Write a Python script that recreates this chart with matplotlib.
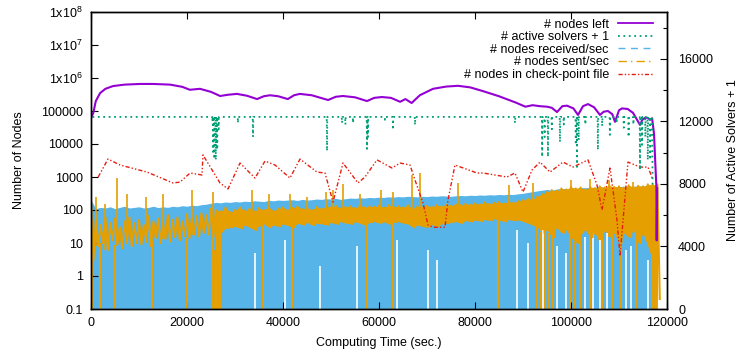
import numpy as np
import matplotlib
matplotlib.use('Agg')
from matplotlib import pyplot as plt
from matplotlib.lines import Line2D
from matplotlib.ticker import FixedLocator, FixedFormatter, MultipleLocator

plt.rcParams['font.family'] = 'Liberation Sans'
plt.rcParams['mathtext.fontset'] = 'custom'
plt.rcParams['mathtext.rm'] = 'Liberation Sans'
plt.rcParams['mathtext.default'] = 'regular'
plt.rcParams['font.size'] = 9

# gnuplot default palette
colors = {'left': '#9400d3', 'solvers': '#009e73', 'recv': '#56b4e9',
          'sent': '#e69f00', 'ckpt': '#e51e10'}

# ---- nodes left (left axis) ----
left_t = [0, 500, 1000, 1900, 3000, 4600, 7000, 10200, 13000, 16500, 19000, 20600,
          22700, 25000, 26900, 28500, 30400, 32500, 34600, 36000, 37300, 39000, 41000,
          42300, 43500, 46000, 49400, 51000, 52500, 55000, 57500, 59000, 60600, 62500,
          64400, 65500, 66800, 68500, 71250, 74000, 76460, 79000, 81670, 85000, 88500,
          90500, 92000, 93500, 95000, 96000, 97080, 98200, 99170, 100500, 101460, 102500,
          103540, 104800, 106040, 106800, 107700, 108600, 109170, 110000, 110620, 111800,
          112920, 114370, 114900, 115420, 116000, 116460, 116900, 117300, 117600, 117800,
          117850, 117950]
left_v = [60000, 90000, 200000, 350000, 470000, 570000, 630000, 660000, 660000, 630000,
          540000, 440000, 470000, 380000, 285000, 310000, 330000, 290000, 230000, 280000,
          300000, 280000, 230000, 300000, 330000, 300000, 215000, 270000, 285000, 260000,
          200000, 250000, 265000, 250000, 190000, 230000, 175000, 300000, 470000, 550000,
          580000, 520000, 400000, 280000, 180000, 135000, 150000, 140000, 135000, 125000,
          93000, 140000, 145000, 120000, 76000, 140000, 162000, 130000, 76000, 95000,
          100000, 80000, 47000, 105000, 120000, 115000, 88000, 38000, 55000, 62000, 62000,
          54000, 60000, 20000, 2000, 450, 12, 450]

# ---- active solvers + 1 (right axis) ----
solver_start = 300
solver_end = 116900
solver_base = 12288
dip_t = [25300, 25420, 25700, 26000, 26300, 26600, 30620, 33750, 49170, 52300, 53000,
         54600, 57500, 57700, 61250, 62920, 67500, 88330, 94000, 94500, 95200, 96000,
         97700, 98500, 101000, 101250, 101600, 103000, 105600, 106500, 108100, 109500,
         111000, 112000, 113000, 114370, 114800, 115500, 116000, 116500]
dip_v = [12000, 10050, 9600, 9540, 10200, 11500, 11900, 11010, 10110, 11900, 11800,
         11900, 10240, 11000, 12100, 11460, 11780, 11900, 9730, 11000, 9730, 11500,
         10690, 11800, 10500, 9090, 10800, 11800, 10180, 11700, 11140, 11900, 11600,
         11000, 11800, 8900, 10500, 11000, 9540, 9540]
solver_tail_t = [117000, 117200]
solver_tail_v = [7800, 7800]

# ---- nodes received / sent per second (left axis), sampled every 1000 s ----
rate_t = np.arange(0, 118001, 1000)
recv_hi = [200, 110, 120, 115, 125, 110, 120, 130, 115, 120,
           125, 115, 120, 130, 118, 125, 120, 130, 125, 135,
           130, 140, 135, 145, 150, 160, 170, 165, 175, 170,
           180, 175, 185, 180, 190, 185, 180, 195, 190, 200,
           195, 200, 205, 195, 210, 200, 205, 215, 210, 220,
           215, 225, 210, 220, 230, 225, 235, 230, 240, 235,
           245, 240, 250, 245, 255, 250, 260, 255, 250, 260,
           255, 265, 260, 270, 265, 260, 270, 275, 270, 280,
           275, 285, 280, 290, 285, 295, 290, 300, 295, 310,
           320, 340, 360, 380, 400, 420, 400, 430, 450, 440,
           460, 450, 480, 470, 490, 480, 500, 490, 510, 500,
           520, 510, 530, 520, 540, 530, 550, 500, 150]
sent_hi = [200, 50, 35, 60, 40, 55, 30, 45, 60, 40,
           50, 35, 65, 45, 55, 40, 70, 50, 60, 45,
           75, 55, 65, 80, 70, 110, 100, 90, 120, 85,
           100, 120, 95, 110, 90, 115, 100, 125, 95, 110,
           120, 100, 115, 130, 105, 120, 100, 125, 110, 130,
           120, 135, 110, 125, 130, 115, 140, 120, 130, 125,
           135, 120, 140, 125, 130, 120, 140, 110, 130, 120,
           135, 125, 140, 130, 145, 135, 150, 140, 155, 145,
           160, 150, 170, 155, 165, 175, 160, 180, 170, 185,
           200, 220, 210, 260, 300, 350, 400, 380, 450, 420,
           500, 450, 480, 420, 500, 460, 520, 480, 550, 500,
           520, 480, 560, 500, 540, 520, 600, 580, 600]
sent_lo = [3, 8, 10, 6, 12, 9, 7, 11, 8, 10,
           9, 12, 8, 14, 10, 13, 11, 15, 12, 16,
           14, 18, 16, 20, 18, 15, 0.5, 22, 28, 30,
           32, 28, 35, 30, 25, 33, 38, 30, 35, 32,
           38, 34, 30, 40, 36, 42, 35, 40, 38, 36,
           42, 38, 45, 40, 38, 44, 40, 35, 42, 45,
           40, 44, 38, 42, 45, 40, 38, 30, 35, 32,
           30, 36, 32, 38, 40, 42, 45, 40, 48, 45,
           50, 46, 52, 48, 55, 50, 45, 52, 48, 50,
           45, 40, 35, 30, 20, 25, 15, 30, 20, 25,
           15, 10, 20, 25, 15, 20, 10, 25, 15, 20,
           10, 20, 15, 25, 10, 20, 8, 3, 0.2]

# intervals with (almost) nothing received: time, level below which nothing shows
recv_gap_t = [26000, 34200, 40400, 47700, 55400, 63750, 70200, 72000, 88750, 91000,
              94200, 97000, 99000, 103000, 104500, 106000, 107500, 111500, 112500, 116000]
recv_gap_top = [0.8, 5, 12, 2, 8, 12, 6, 3, 25, 10, 25, 8, 5, 15, 20, 12, 20, 6, 8, 3]

# sent/sec bursts and drop-outs
sent_spike_t = [1000, 3000, 5400, 7500, 11500, 15000, 21000, 25500, 33500, 37000, 41500,
                45000, 49000, 50500, 52500, 56000, 60500, 63000, 66800, 68500, 76500,
                87000, 92000, 100000, 104000, 108000, 113000]
sent_spike_v = [250, 150, 950, 300, 250, 300, 400, 350, 400, 300, 300, 250, 350, 400,
                600, 300, 400, 350, 1150, 1300, 660, 570, 660, 800, 900, 800, 700]
sent_drop_t = [200, 1900, 5000, 12700, 20000, 25200, 25600, 26000, 26400, 26900, 35800,
               41900, 57500, 62900, 84800, 92900, 93800, 94600, 95500, 96300, 99800,
               100800, 101900, 104000, 106500, 108500, 110500, 113500, 116900, 117300,
               117700]

# ---- nodes in check-point file (left axis) ----
ckpt_t = [1500, 3540, 6040, 11670, 17080, 18540, 20630, 23120, 23330, 26870, 28540,
          31040, 34170, 36250, 38330, 41460, 43540, 47080, 48750, 50420, 52500, 55620,
          57080, 59580, 62710, 64370, 66460, 67500, 69170, 70210, 71250, 73750, 74370,
          75830, 80420, 81670, 86670, 88330, 90000, 91870, 93540, 95620, 98330, 100420,
          103540, 105420, 106460, 108120, 109580, 110210, 111870, 114370, 116040, 117080]
ckpt_v = [1000, 3500, 2310, 1410, 660, 700, 1320, 1150, 4650, 660, 435, 2650, 930, 3040,
          2310, 930, 3500, 1410, 1320, 175, 2650, 660, 1000, 3300, 1870, 2650, 2310, 810,
          163, 35, 30, 30, 200, 2310, 1320, 1320, 1000, 1320, 350, 1620, 2830, 1410, 2830,
          2000, 3300, 570, 100, 1870, 50, 4, 2830, 2000, 2000, 810]

ytick_vals = [0.1, 1, 10, 100, 1000, 10000, 100000, 1e6, 1e7, 1e8]
ytick_labels = ['0.1', '1', '10', '100', '1000', '10000', '100000',
                '1x10$^{6}$', '1x10$^{7}$', '1x10$^{8}$']
xtick_vals = [0, 20000, 40000, 60000, 80000, 100000, 120000]
xtick_labels = ['0', '20000', '40000', '60000', '80000', '100000', '120000']
y2tick_vals = [0, 4000, 8000, 12000, 16000]


def solver_series():
    t = [solver_start]
    v = [solver_base]
    for dt, dv in zip(dip_t, dip_v):
        t += [dt - 60, dt, dt + 60]
        v += [solver_base, dv, solver_base]
    t += [solver_end] + solver_tail_t
    v += [solver_base] + solver_tail_v
    return t, v


def zigzag(t, hi, lo):
    # alternate between the upper and lower reading to get gnuplot's noisy trace
    zt, zv = [], []
    for ti, h, l in zip(t, hi, lo):
        zt += [ti, ti + 500]
        zv += [h, l]
    return zt, zv


fig = plt.figure(figsize=(7.4, 3.52), dpi=100)
ax = fig.add_axes([91 / 740, 43 / 352, 576 / 740, 297 / 352])
ax.set_yscale('log')
ax.set_xlim(0, 120000)
ax.set_ylim(0.1, 1e8)

# received/sec: dense band from the bottom
ax.fill_between(rate_t, 0.1, recv_hi, color=colors['recv'], lw=0)
ax.vlines(recv_gap_t, 0.1, recv_gap_top, colors='white', lw=1.2)

# sent/sec: noisy trace, bursts and drop-outs
ax.fill_between(rate_t, sent_lo, sent_hi, color=colors['sent'], lw=0,
                where=rate_t >= 26000)
zt, zv = zigzag(rate_t, sent_hi, sent_lo)
ax.plot(zt, zv, color=colors['sent'], lw=1.5)
lo_at_spike = np.interp(sent_spike_t, rate_t, sent_lo)
ax.vlines(sent_spike_t, lo_at_spike, sent_spike_v, colors=colors['sent'], lw=1.2)
lo_at_drop = np.interp(sent_drop_t, rate_t, sent_lo)
ax.vlines(sent_drop_t, 0.1, np.maximum(lo_at_drop, 5), colors=colors['sent'], lw=1.4)

ax.plot(ckpt_t, ckpt_v, color=colors['ckpt'], lw=1, ls=(0, (3, 1.5, 1, 1.5, 1, 1.5)))
ax.plot(left_t, left_v, color=colors['left'], lw=1.5)

ax.yaxis.set_major_locator(FixedLocator(ytick_vals))
ax.yaxis.set_major_formatter(FixedFormatter(ytick_labels))
ax.yaxis.set_minor_locator(FixedLocator([]))
ax.xaxis.set_major_locator(FixedLocator(xtick_vals))
ax.xaxis.set_major_formatter(FixedFormatter(xtick_labels))
ax.tick_params(which='both', direction='in', top=True, right=True, length=5, width=0.8)
ax.tick_params(axis='y', pad=6)
ax.tick_params(axis='x', pad=6)
ax.set_xlabel('Computing Time (sec.)')
ax.set_ylabel('Number of Nodes')
ax.yaxis.set_label_coords(-0.115, 0.5)
ax.xaxis.set_label_coords(0.5, -0.095)

ax2 = ax.twinx()
ax2.set_ylim(0, 19000)
st, sv = solver_series()
ax2.plot(st, sv, color=colors['solvers'], lw=1.3, ls=(0, (1, 2)))
ax2.yaxis.set_major_locator(FixedLocator(y2tick_vals))
ax2.yaxis.set_minor_locator(MultipleLocator(2000))
ax2.tick_params(which='both', direction='in', length=5, width=0.8, pad=8)
ax2.tick_params(which='minor', length=3)
ax2.set_ylabel('Number of Active Solvers + 1')
ax2.yaxis.set_label_coords(1.105, 0.5)

for a in (ax, ax2):
    for s in a.spines.values():
        s.set_linewidth(1)
        s.set_color('black')

handles = [
    Line2D([], [], color=colors['left'], lw=1.3),
    Line2D([], [], color=colors['solvers'], lw=1.3, ls=(0, (1, 2))),
    Line2D([], [], color=colors['recv'], lw=1, ls=(0, (5, 4))),
    Line2D([], [], color=colors['sent'], lw=1, ls=(0, (6, 3, 1, 3))),
    Line2D([], [], color=colors['ckpt'], lw=1, ls=(0, (3, 1.5, 1, 1.5, 1, 1.5))),
]
labels = ['# nodes left', '# active solvers + 1', '# nodes received/sec',
          '# nodes sent/sec', '# nodes in check-point file']
ax2.legend(handles, labels, loc='upper right', bbox_to_anchor=(0.975, 0.978),
           frameon=False, markerfirst=False, handlelength=2.8, handletextpad=0.7,
           labelspacing=0.05, borderpad=0, borderaxespad=0)

fig.savefig('out.png', dpi=100)
